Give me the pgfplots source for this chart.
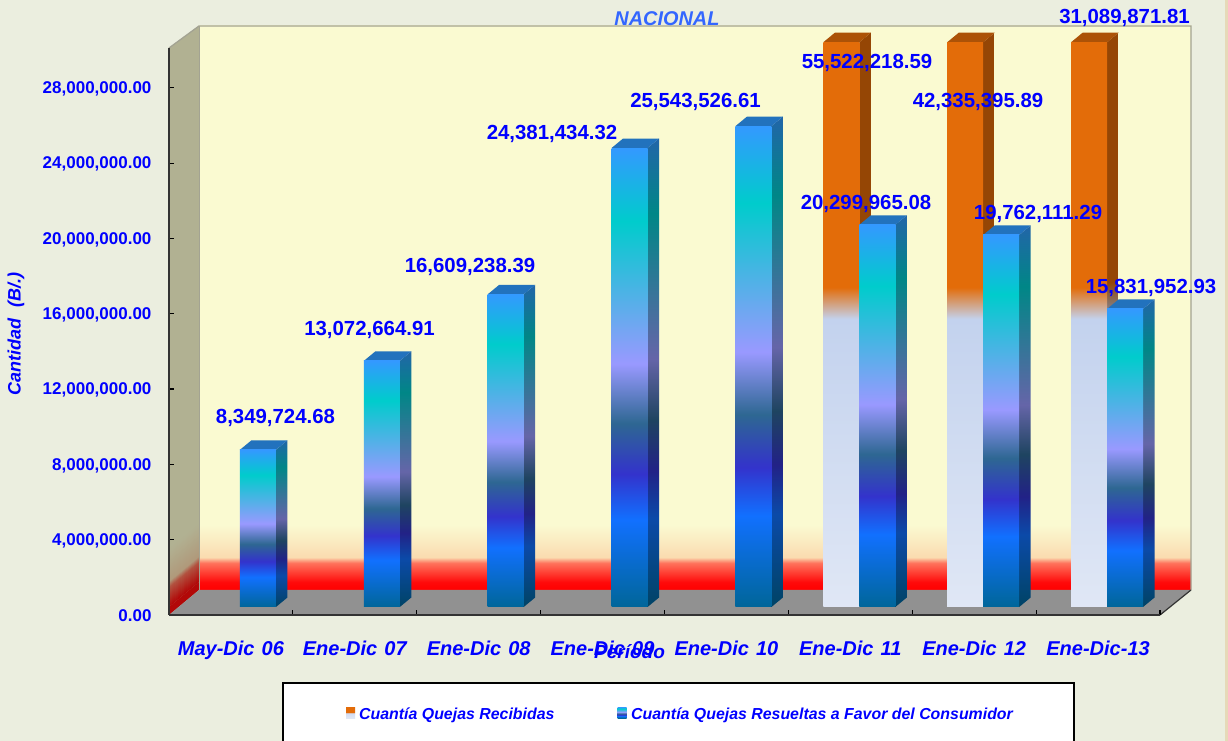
\documentclass[border=0pt]{standalone}
\usepackage{pgfplots}
\pgfplotsset{compat=1.18}
\usepackage{fontspec}
\setmainfont{Liberation Sans}
\definecolor{bg}{HTML}{EBEEDF}
\definecolor{sidewall}{HTML}{B1B192}
\definecolor{floorc}{HTML}{919191}
\definecolor{edgec}{HTML}{A3A392}
\definecolor{titleblue}{HTML}{3366FF}
\definecolor{lblue}{HTML}{0000FF}
\definecolor{topblue}{HTML}{2272BD}
\definecolor{toporange}{HTML}{AC5207}
\definecolor{sA}{rgb}{.70,.03,.03}
\definecolor{sB}{rgb}{.70,.32,.25}
\definecolor{sC}{rgb}{.69,.60,.48}
\pgfdeclareverticalshading{peacock}{100bp}{rgb(0bp)=(0,.4,.6); rgb(25bp)=(0,.4,.6); rgb(34.5bp)=(.067,.44,1); rgb(39.5bp)=(.2,.2,.8); rgb(45bp)=(.18,.404,.573); rgb(51.5bp)=(.6,.6,1); rgb(67bp)=(0,.8,.8); rgb(75bp)=(.2,.6,1); rgb(100bp)=(.2,.6,1)}
\pgfdeclareverticalshading{peacockdark}{100bp}{rgb(0bp)=(0,.264,.396); rgb(25bp)=(0,.264,.396); rgb(34.5bp)=(.044,.29,.66); rgb(39.5bp)=(.132,.132,.528); rgb(45bp)=(.119,.267,.378); rgb(51.5bp)=(.396,.396,.66); rgb(67bp)=(0,.528,.528); rgb(75bp)=(.132,.396,.66); rgb(100bp)=(.132,.396,.66)}
\pgfdeclareverticalshading{fadeorange}{100bp}{rgb(0bp)=(.878,.906,.961); rgb(25bp)=(.878,.906,.961); rgb(50.5bp)=(.765,.824,.933); rgb(53.3bp)=(.89,.424,.035); rgb(75bp)=(.89,.424,.035); rgb(100bp)=(.89,.424,.035)}
\pgfdeclareverticalshading{fadeorangedark}{100bp}{rgb(0bp)=(.58,.6,.635); rgb(25bp)=(.58,.6,.635); rgb(50.5bp)=(.505,.544,.616); rgb(53.3bp)=(.585,.275,.02); rgb(75bp)=(.585,.275,.02); rgb(100bp)=(.585,.275,.02)}
\pgfdeclareverticalshading{backwall}{100bp}{rgb(0bp)=(1,0,0); rgb(25bp)=(1,0,0); rgb(25.7bp)=(1,.04,.04); rgb(27.4bp)=(1,.45,.36); rgb(27.9bp)=(.98,.86,.69); rgb(30.76bp)=(.98,.98,.82); rgb(75bp)=(.98,.98,.82); rgb(100bp)=(.98,.98,.82)}
\pgfdeclareverticalshading{keyorange}{100bp}{rgb(0bp)=(.878,.906,.961); rgb(25bp)=(.878,.906,.961); rgb(47bp)=(.82,.86,.95); rgb(50bp)=(.89,.424,.035); rgb(75bp)=(.89,.424,.035); rgb(100bp)=(.89,.424,.035)}
% bar geometry, in category units and millions
\def\hw{0.1453}\def\ddx{0.09284}\def\ddy{0.5046}
\newcommand\threedbar[5]{% x, value, front shading, side shading, top colour
  \pgfmathsetmacro\vv{min(#2,30)}
  \pgfmathsetmacro\xc{#1}
  \pgfmathsetmacro\xL{#1-\hw}
  \pgfmathsetmacro\xR{#1+\hw}
  \pgfmathsetmacro\xRR{#1+\hw+\ddx}
  \pgfmathsetmacro\xLL{#1-\hw+\ddx}
  \pgfmathsetmacro\vt{\vv+\ddy}
  \addplot[shading=#4,draw=none] coordinates {(\xR,0) (\xRR,\ddy) (\xRR,\vt) (\xR,\vv) (\xR,0)};
  \addplot[fill=#5,draw=none] coordinates {(\xL,\vv) (\xLL,\vt) (\xRR,\vt) (\xR,\vv) (\xL,\vv)};
  \addplot[ybar,bar width=36pt,bar shift=0pt,shading=#3,draw=none] coordinates {(\xc,\vv)};
}
\newcommand\lab[3]{\node[text=lblue,font=\fontsize{20.4}{24}\selectfont\bfseries,inner sep=0pt] at ({#1-169},{613-#2}) {#3};}
\newcommand\sideslice[4]{\foreach \t in {#1,...,#2}{%
  \pgfmathsetmacro\p{(\t-#1)/(#2-#1+1)*100}
  \fill[#4!\p!#3] (0,\t) -- (30,\t+25) -- (30,\t+26.5) -- (0,\t+1.5) -- cycle;}}
\begin{document}
\begin{tikzpicture}[x=1pt,y=1pt]
\path[use as bounding box] (-169,-126) rectangle (1059,615);
\fill[bg] (-169,-126) rectangle (1059,615);
\fill[color={rgb,255:red,230;green,217;blue,184}] (1056,-126) rectangle (1059,615);
% walls and floor
\shade[shading=backwall] (30,25) rectangle (1022,589);
\fill[sidewall] (0,0) -- (30,25) -- (30,589) -- (0,567) -- cycle;
\fill[sA] (0,0) -- (30,25) -- (30,33) -- (0,8) -- cycle;
\sideslice{8}{26}{sA}{sB}
\sideslice{27}{32}{sB}{sC}
\sideslice{33}{64}{sC}{sidewall}
\fill[floorc] (0,0) -- (30,25) -- (1022,25) -- (991,0) -- cycle;
\draw[edgec,line width=1.3pt] (0,567) -- (30,589) -- (1022,589) -- (1022,25);
\draw[edgec,line width=1pt] (30,589) -- (30,25);
\draw[black!80,line width=1.2pt] (991,0) -- (1022,25);
\begin{axis}[
  at={(0pt,0pt)},anchor=south west,scale only axis,
  width=991pt,height=567pt,
  xmin=0,xmax=8,ymin=0,ymax=30120000,
  enlargelimits=false,clip=false,
  axis x line*=bottom,axis y line*=left,
  axis line style={black!80,line width=1.5pt,-},
  tick style={black,line width=1.2pt},
  major tick length=5pt,
  xtick={0,1,2,3,4,5,6,7,8},xticklabels={},
  extra x ticks={0.5,1.5,2.5,3.5,4.5,5.5,6.5,7.5},
  extra x tick labels={May-Dic\hspace{.08em} 06,Ene-Dic\hspace{.08em} 07,Ene-Dic\hspace{.08em} 08,Ene-Dic\hspace{.08em} 09,Ene-Dic\hspace{.08em} 10,Ene-Dic\hspace{.08em} 11,Ene-Dic\hspace{.08em} 12,Ene-Dic-13},
  extra x tick style={major tick length=0pt,x tick label style={yshift=-22pt,font=\fontsize{20}{24}\selectfont\bfseries\itshape,text=lblue}},
  ytick={0,4000000,8000000,12000000,16000000,20000000,24000000,28000000},
  scaled y ticks=false,
  yticklabel style={font=\fontsize{17}{20}\selectfont\bfseries,text=lblue,xshift=-14pt,yshift=-1pt,
    /pgf/number format/.cd,fixed,fixed zerofill,precision=2,1000 sep={,},assume math mode=true},
  xlabel={Período},ylabel={Cantidad\hspace{.3em} (B/.)},
  xlabel style={at={(axis description cs:0.4647,-0.0653)},anchor=center,font=\fontsize{19}{23}\selectfont\bfseries\itshape,text=lblue},
  ylabel style={at={(axis description cs:-0.1544,0.4955)},anchor=center,rotate=0,font=\fontsize{18}{22}\selectfont\bfseries\itshape,text=lblue},
  title={NACIONAL},
  title style={at={(axis description cs:0.5025,1.053)},anchor=center,yshift=-7pt,font=\fontsize{19.9}{23}\selectfont\bfseries\itshape,text=titleblue},
]
\end{axis}
\begin{axis}[
  at={(9pt,8pt)},anchor=south west,scale only axis,
  width=991pt,height=564.75pt,
  xmin=0,xmax=8,ymin=0,ymax=30,
  enlargelimits=false,clip=false,hide axis,
]
% Cuantía Quejas Recibidas (millions)
\threedbar{5.3547}{55.52221859}{fadeorange}{fadeorangedark}{toporange}
\threedbar{6.3547}{42.33539589}{fadeorange}{fadeorangedark}{toporange}
\threedbar{7.3547}{31.08987181}{fadeorange}{fadeorangedark}{toporange}
% Cuantía Quejas Resueltas a Favor del Consumidor (millions)
\threedbar{0.6453}{8.34972468}{peacock}{peacockdark}{topblue}
\threedbar{1.6453}{13.07266491}{peacock}{peacockdark}{topblue}
\threedbar{2.6453}{16.60923839}{peacock}{peacockdark}{topblue}
\threedbar{3.6453}{24.38143432}{peacock}{peacockdark}{topblue}
\threedbar{4.6453}{25.54352661}{peacock}{peacockdark}{topblue}
\threedbar{5.6453}{20.29996508}{peacock}{peacockdark}{topblue}
\threedbar{6.6453}{19.76211129}{peacock}{peacockdark}{topblue}
\threedbar{7.6453}{15.83195293}{peacock}{peacockdark}{topblue}
\end{axis}
\lab{275.5}{416}{8,349,724.68}
\lab{369.5}{328}{13,072,664.91}
\lab{470}{265}{16,609,238.39}
\lab{552}{132}{24,381,434.32}
\lab{695.5}{100}{25,543,526.61}
\lab{867}{61}{55,522,218.59}
\lab{866}{202}{20,299,965.08}
\lab{978}{100}{42,335,395.89}
\lab{1038}{212}{19,762,111.29}
\lab{1124.5}{16}{31,089,871.81}
\lab{1151}{286}{15,831,952.93}
% legend
\draw[black,fill=white,line width=1.5pt] (114,-68) rectangle (905,-140);
\shade[shading=keyorange] (177,-92) rectangle (186,-103);
\shade[shading=peacock] (448.5,-92) rectangle (457.5,-103);
\node[anchor=west,inner sep=0pt,text=lblue,font=\fontsize{15.9}{19}\selectfont\bfseries\itshape] at (190,-100) {Cuantía Quejas Recibidas};
\node[anchor=west,inner sep=0pt,text=lblue,font=\fontsize{15.9}{19}\selectfont\bfseries\itshape] at (462,-100) {Cuantía Quejas Resueltas a Favor del Consumidor};
\end{tikzpicture}
\end{document}
